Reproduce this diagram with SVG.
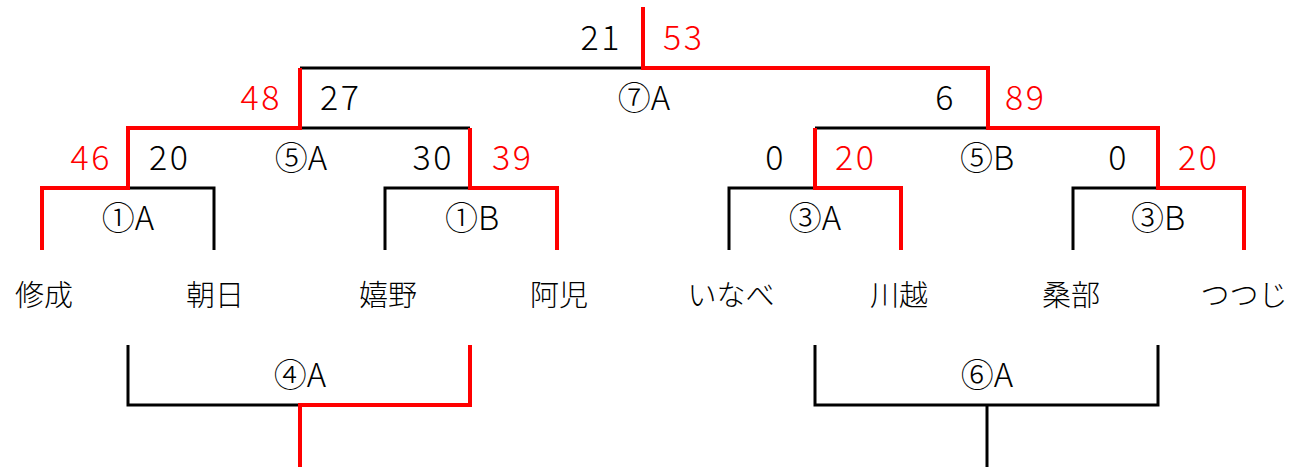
<svg xmlns="http://www.w3.org/2000/svg" width="1292" height="467" viewBox="0 0 1292 467">
<style>
.b{fill:none;stroke:#000;stroke-width:3}
.r{fill:none;stroke:#f00;stroke-width:4}
text{font-family:"Noto Sans CJK JP","Noto Sans",sans-serif;font-size:33px;font-weight:300;fill:#000}
.d{font-size:34px;letter-spacing:2.5px}
.rt{fill:#f00}
.e{text-anchor:end}
.m{text-anchor:middle}
.n{font-size:29px;text-anchor:middle}
</style>
<rect width="1292" height="467" fill="#fff"/>
<g id="connectors">
<path class="b" d="M300,68H643"/>
<path class="b" d="M300,128H470"/>
<path class="b" d="M128,188H214V250"/>
<path class="b" d="M385,250V188H470"/>
<path class="b" d="M815,128H988"/>
<path class="b" d="M729,250V188H815"/>
<path class="b" d="M1073,250V188H1158"/>
<path class="b" d="M128,345V405H300"/>
<path class="b" d="M815,345V405H1158V345"/>
<path class="b" d="M987,405V467"/>
<path class="r" d="M643,7V68H988V128H1158V188H1244V250"/>
<path class="r" d="M815,128V188H901V250"/>
<path class="r" d="M300,68V128H128V188H42V250"/>
<path class="r" d="M470,128V188H557V250"/>
<path class="r" d="M470,345V405H300V467"/>
</g>
<g id="scores">
<text class="d e" x="622" y="50">21</text>
<text class="d rt" x="663" y="50">53</text>
<text class="d rt e" x="282" y="110">48</text>
<text class="d" x="320" y="110">27</text>
<text class="m" x="644" y="110">⑦A</text>
<text class="d e" x="956" y="110">6</text>
<text class="d rt" x="1005" y="110">89</text>
<text class="d rt e" x="112" y="170">46</text>
<text class="d" x="149" y="170">20</text>
<text class="m" x="301" y="170">⑤A</text>
<text class="d e" x="454" y="170">30</text>
<text class="d rt" x="492" y="170">39</text>
<text class="d e" x="786" y="170">0</text>
<text class="d rt" x="835" y="170">20</text>
<text class="m" x="987" y="170">⑤B</text>
<text class="d e" x="1129" y="170">0</text>
<text class="d rt" x="1178" y="170">20</text>
<text class="m" x="128" y="230">①A</text>
<text class="m" x="472" y="230">①B</text>
<text class="m" x="815" y="230">③A</text>
<text class="m" x="1158" y="230">③B</text>
<text class="m" x="300" y="387">④A</text>
<text class="m" x="987" y="387">⑥A</text>
</g>
<g id="teams">
<text class="n" x="44" y="306">修成</text>
<text class="n" x="215" y="306">朝日</text>
<text class="n" x="388" y="306">嬉野</text>
<text class="n" x="559" y="306">阿児</text>
<text class="n" x="731" y="306">いなべ</text>
<text class="n" x="899" y="306">川越</text>
<text class="n" x="1071" y="306">桑部</text>
<text class="n" x="1244" y="306">つつじ</text>
</g>
</svg>
